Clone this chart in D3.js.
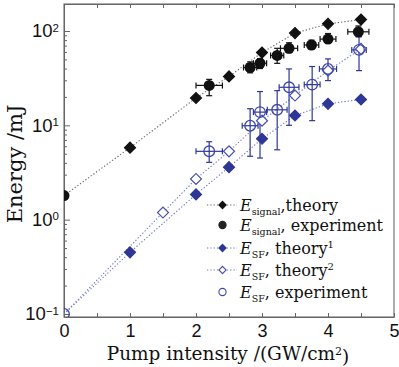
<!DOCTYPE html>
<html>
<head>
<meta charset="utf-8">
<script src="https://cdn.jsdelivr.net/npm/d3@7"></script>
<style>
  body { margin: 0; background: #fff; }
  svg { display: block; font-family: "DejaVu Serif", serif; }
  .axis path, .axis line { stroke: #666; }
  .axis text { fill: #111; }
</style>
</head>
<body>
<div id="chart"></div>
<script>
// chart size
var outer_width = 399, outer_height = 367;
var margin = {top: 4, right: 5, bottom: 50, left: 64};
var svg_width = outer_width - margin.left - margin.right;
var svg_height = outer_height - margin.top - margin.bottom;

// E_signal theory
var signalTheoryX = [0, 1, 2, 2.5, 3, 3.5, 4, 4.5];
var signalTheoryE = [1.8, 5.8, 19.5, 33, 59, 95, 119, 132];
// E_signal experiment (first one is the start point at 0)
var signalExpX   = [0, 2.2, 2.82, 2.97, 3.23, 3.41, 3.75, 4.0, 4.46];
var signalExpE   = [1.8, 26.5, 41, 45.5, 55, 65.5, 71, 82, 98];
var signalExpLo  = [1.8, 20.6, 36, 40, 45.4, 58.8, 64, 74, 87];
var signalExpHi  = [1.8, 30.7, 47, 51, 65.5, 75, 80, 94, 113];
var signalExpXErr = [0, 0.2, 0.1, 0.1, 0.1, 0.13, 0.11, 0.12, 0.16];
// E_SF theory 1 and 2
var sfTheory1X = [0, 1, 2, 2.5, 3, 3.5, 4, 4.5];
var sfTheory1E = [0.1, 0.45, 1.85, 3.6, 7.2, 12.7, 16.9, 18.8];
var sfTheory2X = [0, 1.5, 2, 2.5, 3, 3.5, 4, 4.5];
var sfTheory2E = [0.1, 1.19, 2.7, 5.3, 11.2, 20.7, 38, 64.5];
// E_SF experiment
var sfExpX   = [0, 2.2, 2.82, 2.97, 3.23, 3.41, 3.76, 4.0, 4.47];
var sfExpE   = [0.1, 5.3, 9.9, 13.8, 14.6, 25.3, 27, 39.6, 63];
var sfExpLo  = [0.1, 4.05, 4.7, 4.5, 5.5, 10, 11.2, 29.8, 38];
var sfExpHi  = [0.1, 6.7, 15, 22.8, 23.3, 39.6, 42, 50.6, 87];
var sfExpXErr = [0, 0.2, 0.12, 0.1, 0.15, 0.15, 0.12, 0.13, 0.11];

var xTicks = [0, 0.5, 1, 1.5, 2, 2.5, 3, 3.5, 4, 4.5, 5];
var yMajor = [0.1, 1, 10, 100];
var yExpLabels = ["\u22121", "0", "1", "2"];

var legendLabels = [
  {sub: "signal", rest: ",theory", sup: ""},
  {sub: "signal", rest: ", experiment", sup: ""},
  {sub: "SF", rest: ", theory", sup: "1"},
  {sub: "SF", rest: ", theory", sup: "2"},
  {sub: "SF", rest: ", experiment", sup: ""}
];

var black = "#111", blue = "#2e3796", blueLine = "#6f78cf";

function zip(xs, es) {
  return xs.map(function(x, i){ return {x: x, e: es[i]}; });
}

var svg = d3.select("#chart").append("svg")
  .attr("width", outer_width).attr("height", outer_height);

var canvas = svg.append("g")
  .attr("transform", "translate(" + margin.left + "," + margin.top + ")");

var xScale = d3.scaleLinear().domain([0, 5]).range([0, svg_width]);
var yScale = d3.scaleLog()
  .domain([Math.pow(10, -1.032), Math.pow(10, 2.286)])
  .range([svg_height, 0]);

canvas.append("clipPath").attr("id", "plotclip")
  .append("rect").attr("width", svg_width).attr("height", svg_height);

// frame
canvas.append("rect")
  .attr("width", svg_width).attr("height", svg_height)
  .attr("fill", "#fff").attr("stroke", "#777").attr("stroke-width", 1.2);

// x axis bottom (ticks pointing in)
var xAxis = d3.axisBottom(xScale).tickValues(xTicks).tickSizeInner(-4).tickSizeOuter(0)
  .tickPadding(7)
  .tickFormat(function(d){ return d % 1 === 0 ? d : ""; });
canvas.append("g").attr("class", "axis")
  .attr("transform", "translate(0," + svg_height + ")")
  .call(xAxis)
  .call(function(g){ g.selectAll("text").style("font-size", "18px"); });

// top ticks
canvas.append("g").attr("class", "axis")
  .call(d3.axisTop(xScale).tickValues(xTicks).tickSizeInner(-4).tickSizeOuter(0).tickFormat(""));

// y axis: minor ticks
var yMinor = [];
[-2, -1, 0, 1, 2].forEach(function(p){
  for (var k = 2; k <= 9; k++) {
    var v = k * Math.pow(10, p);
    if (v > yScale.domain()[0] && v < yScale.domain()[1]) yMinor.push(v);
  }
});
canvas.append("g").attr("class", "axis")
  .call(d3.axisLeft(yScale).tickValues(yMinor).tickSizeInner(-3).tickSizeOuter(0).tickFormat(""));

var yAxisG = canvas.append("g").attr("class", "axis")
  .call(d3.axisLeft(yScale).tickValues(yMajor).tickSizeInner(-6).tickSizeOuter(0)
    .tickPadding(6).tickFormat(""));
yAxisG.selectAll(".tick").each(function(d, i){
  var t = d3.select(this).select("text")
    .attr("x", -5).attr("dy", "0.32em").style("font-size", "18.5px")
    .attr("text-anchor", "end");
  t.append("tspan").text("10");
  t.append("tspan").attr("dy", "-0.5em").style("font-size", "11.5px").text(yExpLabels[i]);
});
canvas.selectAll(".axis path.domain").attr("stroke", "#777");

// axis titles
var xTitle = svg.append("text")
  .attr("x", 228).attr("y", 360)
  .attr("text-anchor", "middle").style("font-size", "18.5px").attr("fill", black);
xTitle.append("tspan").text("Pump intensity /(GW/cm");
xTitle.append("tspan").attr("dy", "-0.45em").style("font-size", "11px").text("2");
xTitle.append("tspan").attr("dy", "0.45em").text(")");

svg.append("text")
  .attr("transform", "translate(22,164) rotate(-90)")
  .attr("text-anchor", "middle").style("font-size", "21px").attr("fill", black)
  .text("Energy /mJ");

// plot contents
var plot = canvas.append("g").attr("clip-path", "url(#plotclip)");

var line = d3.line()
  .x(function(d){ return xScale(d.x); })
  .y(function(d){ return yScale(d.e); });

function dotted(data, color) {
  plot.append("path").datum(data)
    .attr("d", line).attr("fill", "none")
    .attr("stroke", color).attr("stroke-width", 1.1)
    .attr("stroke-dasharray", "1.3,2");
}
dotted(zip(signalTheoryX, signalTheoryE), "#666");
dotted(zip(sfTheory1X, sfTheory1E), blueLine);
dotted(zip(sfTheory2X, sfTheory2E), blueLine);

var diamond = d3.symbol().type(d3.symbolSquare).size(60);

function diamonds(data, fill, stroke) {
  plot.selectAll(null).data(data.filter(function(d){ return d.x > 0; }))
    .enter().append("path")
    .attr("d", diamond)
    .attr("transform", function(d){
      return "translate(" + xScale(d.x) + "," + yScale(d.e) + ") rotate(45)";
    })
    .attr("fill", fill).attr("stroke", stroke).attr("stroke-width", 1.2);
}

function errorBars(xs, es, lo, hi, xe, color) {
  var data = xs.map(function(x, i){ return {x: x, e: es[i], lo: lo[i], hi: hi[i], xe: xe[i]}; });
  var g = plot.append("g").attr("stroke", color).attr("stroke-width", 1.2).attr("fill", "none");
  data.forEach(function(d){
    var cx = xScale(d.x), cy = yScale(d.e);
    if (d.hi > d.lo) {
      var y1 = yScale(d.hi), y2 = yScale(d.lo);
      g.append("line").attr("x1", cx).attr("x2", cx).attr("y1", y1).attr("y2", y2);
      g.append("line").attr("x1", cx - 3).attr("x2", cx + 3).attr("y1", y1).attr("y2", y1);
      g.append("line").attr("x1", cx - 3).attr("x2", cx + 3).attr("y1", y2).attr("y2", y2);
    }
    if (d.xe > 0) {
      var x1 = xScale(d.x - d.xe), x2 = xScale(d.x + d.xe);
      g.append("line").attr("x1", x1).attr("x2", x2).attr("y1", cy).attr("y2", cy);
      g.append("line").attr("x1", x1).attr("x2", x1).attr("y1", cy - 3).attr("y2", cy + 3);
      g.append("line").attr("x1", x2).attr("x2", x2).attr("y1", cy - 3).attr("y2", cy + 3);
    }
  });
  return data;
}

// SF experiment
var sfExp = errorBars(sfExpX, sfExpE, sfExpLo, sfExpHi, sfExpXErr, blue);
diamonds(zip(sfTheory1X, sfTheory1E), blue, blue);
diamonds(zip(sfTheory2X, sfTheory2E), "#fff", "#4650b0");
plot.selectAll(null).data(sfExp).enter().append("circle")
  .attr("cx", function(d){ return xScale(d.x); })
  .attr("cy", function(d){ return yScale(d.e); })
  .attr("r", 5.3).attr("fill", "none").attr("stroke", "#3c46aa").attr("stroke-width", 1.3);

// signal
var sigExp = errorBars(signalExpX, signalExpE, signalExpLo, signalExpHi, signalExpXErr, black);
diamonds(zip(signalTheoryX, signalTheoryE), black, black);
plot.selectAll(null).data(sigExp).enter().append("circle")
  .attr("cx", function(d){ return xScale(d.x); })
  .attr("cy", function(d){ return yScale(d.e); })
  .attr("r", 5.5).attr("fill", black);

// legend
var legendY = [205, 225, 248, 270, 292];
var legendMark = [
  {line: "#666", type: "diamond", fill: black, stroke: black},
  {line: null, type: "circle", fill: "#222", stroke: "#222"},
  {line: blueLine, type: "diamond", fill: blue, stroke: blue},
  {line: blueLine, type: "diamond", fill: "#fff", stroke: "#4650b0"},
  {line: null, type: "circle", fill: "none", stroke: "#3c46aa"}
];
var legend = svg.append("g");
legendLabels.forEach(function(lab, i){
  var y = legendY[i], m = legendMark[i];
  if (m.line) {
    legend.append("line").attr("x1", 207).attr("x2", 237).attr("y1", y).attr("y2", y)
      .attr("stroke", m.line).attr("stroke-width", 1.1).attr("stroke-dasharray", "1.3,2");
  }
  if (m.type === "diamond") {
    legend.append("path").attr("d", d3.symbol().type(d3.symbolSquare).size(26))
      .attr("transform", "translate(222.5," + y + ") rotate(45)")
      .attr("fill", m.fill).attr("stroke", m.stroke).attr("stroke-width", 1.1);
  } else {
    legend.append("circle").attr("cx", 222.5).attr("cy", y).attr("r", 3.6)
      .attr("fill", m.fill).attr("stroke", m.stroke).attr("stroke-width", 1.1);
  }
  var t = legend.append("text").attr("x", 240).attr("y", y + 6)
    .style("font-size", "16px").attr("fill", black);
  t.append("tspan").style("font-style", "italic").text("E");
  t.append("tspan").attr("dy", 4).style("font-size", "9.5px").text(lab.sub);
  t.append("tspan").attr("dy", -4).text(lab.rest);
  if (lab.sup) t.append("tspan").attr("dy", -6).style("font-size", "10px").text(lab.sup);
});
</script>
</body>
</html>
